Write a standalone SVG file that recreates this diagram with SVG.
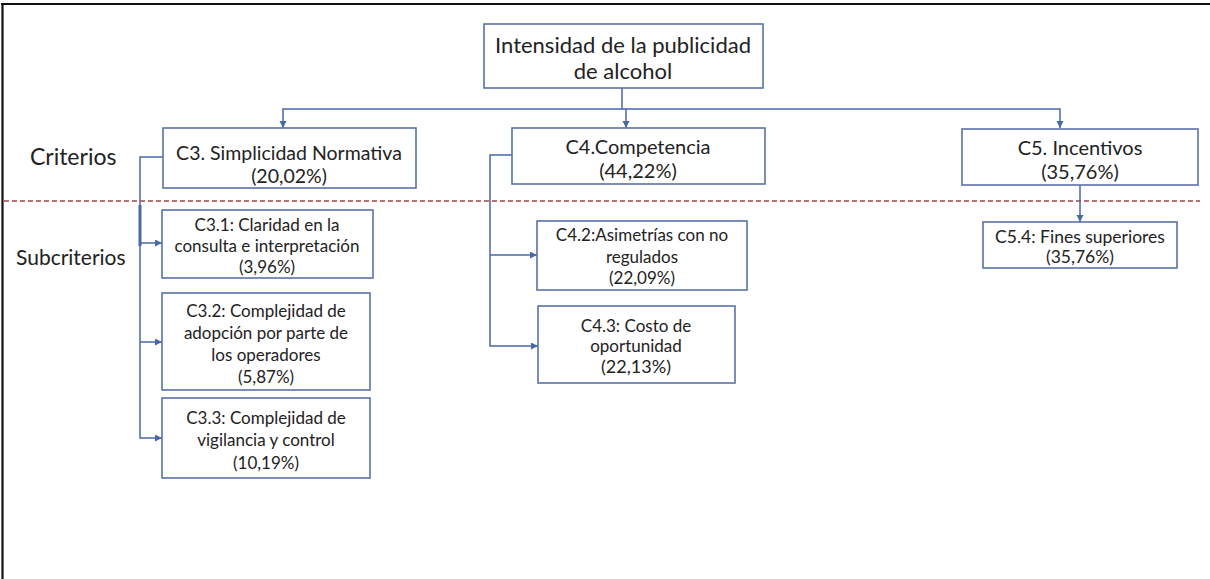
<svg xmlns="http://www.w3.org/2000/svg" width="1210" height="579" viewBox="0 0 1210 579">
<style>
.box{fill:#fff;stroke:#5a72a8;stroke-width:1.6}
.t{font-family:Lato,"Open Sans",sans-serif;fill:#222;text-anchor:middle}
.s{font-size:17px}
.lab{font-family:Lato,"Open Sans",sans-serif;fill:#222}
.con{fill:none;stroke:#4a68a6;stroke-width:1.5}
</style>
<defs>
<marker id="ar" markerUnits="userSpaceOnUse" markerWidth="8" markerHeight="8" refX="7" refY="3.5" orient="auto">
<path d="M0,0 L7,3.5 L0,7 z" fill="#4a68a6"/>
</marker>
</defs>
<rect width="1210" height="579" fill="#fff"/>
<g id="frame">
<line x1="1" y1="4" x2="1210" y2="4" stroke="#111" stroke-width="2.2"/>
<line x1="2.5" y1="3" x2="2.5" y2="579" stroke="#111" stroke-width="2.2"/>
</g>
<line id="divider" x1="4" y1="201" x2="1200" y2="201" stroke="#a0444f" stroke-width="1.3" stroke-dasharray="5,3"/>
<text class="lab" font-size="23" x="30" y="165">Criterios</text>
<text class="lab" font-size="21" x="16" y="265">Subcriterios</text>
<g id="connectors">
<path class="con" d="M622,88 V109 H283 V128" marker-end="url(#ar)"/>
<path class="con" d="M622,109 H1060 V128" marker-end="url(#ar)"/>
<path class="con" d="M626,109 V128" marker-end="url(#ar)"/>
<path class="con" d="M163,157 H140 V438 H162" marker-end="url(#ar)"/>
<path class="con" d="M140,243 H162" marker-end="url(#ar)"/>
<path class="con" d="M140,342 H162" marker-end="url(#ar)"/>
<line x1="140" y1="205" x2="140" y2="246" stroke="#4a68a6" stroke-width="3"/>
<path class="con" d="M512,155 H490 V346 H538" marker-end="url(#ar)"/>
<path class="con" d="M490,255 H537" marker-end="url(#ar)"/>
<path class="con" d="M1080,185 V222" marker-end="url(#ar)"/>
</g>
<g id="root">
<rect class="box" x="484" y="24" width="279" height="64"/>
<text class="t" font-size="22" x="623" y="53">Intensidad de la publicidad</text>
<text class="t" font-size="22" x="623" y="79">de alcohol</text>
</g>
<g id="c3">
<rect class="box" x="163" y="128" width="253" height="60"/>
<text class="t" font-size="19.5" x="289" y="160">C3. Simplicidad Normativa</text>
<text class="t" font-size="19.5" x="289" y="183">(20,02%)</text>
</g>
<g id="c4">
<rect class="box" x="512" y="128" width="253" height="56"/>
<text class="t" font-size="20" x="638" y="154">C4.Competencia</text>
<text class="t" font-size="20" x="638" y="178">(44,22%)</text>
</g>
<g id="c5">
<rect class="box" x="962" y="129" width="236" height="56"/>
<text class="t" font-size="20" x="1080" y="155">C5. Incentivos</text>
<text class="t" font-size="20" x="1080" y="179">(35,76%)</text>
</g>
<g id="c31">
<rect class="box" x="162" y="210" width="211" height="68"/>
<text class="t s" x="267" y="231">C3.1: Claridad en la</text>
<text class="t s" x="267" y="252">consulta e interpretación</text>
<text class="t s" x="267" y="273">(3,96%)</text>
</g>
<g id="c32">
<rect class="box" x="162" y="293" width="208" height="97"/>
<text class="t s" x="266" y="317">C3.2: Complejidad de</text>
<text class="t s" x="266" y="339">adopción por parte de</text>
<text class="t s" x="266" y="361">los operadores</text>
<text class="t s" x="266" y="383">(5,87%)</text>
</g>
<g id="c33">
<rect class="box" x="162" y="398" width="208" height="80"/>
<text class="t s" x="266" y="424">C3.3: Complejidad de</text>
<text class="t s" x="266" y="446">vigilancia y control</text>
<text class="t s" x="266" y="469">(10,19%)</text>
</g>
<g id="c42">
<rect class="box" x="537" y="221" width="210" height="69"/>
<text class="t s" x="642" y="241">C4.2:Asimetrías con no</text>
<text class="t s" x="642" y="263">regulados</text>
<text class="t s" x="642" y="284">(22,09%)</text>
</g>
<g id="c43">
<rect class="box" x="538" y="306" width="197" height="77"/>
<text class="t" font-size="17" x="636" y="332">C4.3: Costo de</text>
<text class="t" font-size="17" x="636" y="352">oportunidad</text>
<text class="t" font-size="18" x="636" y="373">(22,13%)</text>
</g>
<g id="c54">
<rect class="box" x="983" y="222" width="194" height="46"/>
<text class="t" font-size="17.5" x="1080" y="243">C5.4: Fines superiores</text>
<text class="t" font-size="17.5" x="1080" y="263">(35,76%)</text>
</g>
</svg>
